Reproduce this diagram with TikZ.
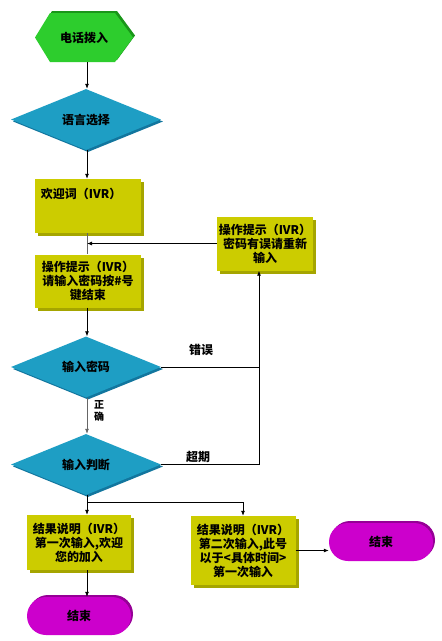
\documentclass[tikz,border=0pt]{standalone}
\usepackage{fontspec}
\newfontfamily\cjk{Noto Sans CJK SC}
\usetikzlibrary{shapes.geometric,shapes.misc,shadows,arrows.meta}
\definecolor{hexg}{RGB}{45,205,45}
\definecolor{hexgd}{RGB}{25,150,25}
\definecolor{dia}{RGB}{30,158,196}
\definecolor{diad}{RGB}{18,118,158}
\definecolor{boxy}{RGB}{204,204,0}
\definecolor{boxyd}{RGB}{165,165,0}
\definecolor{term}{RGB}{204,0,204}
\definecolor{termd}{RGB}{150,0,150}
\tikzset{
  txt/.style={font=\cjk\bfseries\fontsize{12}{14}\selectfont, align=center, inner sep=0pt, text=black},
  diam/.style={txt, diamond, fill=dia, minimum width=150pt, minimum height=61pt,
    general shadow={fill=diad, shadow xshift=2pt, shadow yshift=-2pt}},
  boxn/.style={txt, rectangle, fill=boxy,
    general shadow={fill=boxyd, shadow xshift=3pt, shadow yshift=-3pt}},
  termn/.style={txt, rounded rectangle, fill=term, minimum width=104pt, minimum height=38pt,
    general shadow={fill=termd, shadow xshift=2pt, shadow yshift=2pt}},
  arr/.style={-{Latex[length=5pt,width=4pt]}, line width=0.8pt},
  ln/.style={line width=0.8pt},
  lbl/.style={font=\cjk\bfseries\fontsize{12}{14}\selectfont, inner sep=0pt}
}
\begin{document}
\begin{tikzpicture}[x=1pt,y=-1pt]
\fill[white] (0,0) rectangle (442,641);
\useasboundingbox (0,0) rectangle (442,641);
\coordinate (colx) at (87,0);
% hexagon
\fill[hexgd] (37,35.5) -- (52,11) -- (117,11) -- (135,35.5) -- (117,60) -- (52,60) -- cycle;
\fill[hexg] (35,37.5) -- (50,13) -- (115,13) -- (133,37.5) -- (115,62) -- (50,62) -- cycle;
\node[txt, minimum width=98pt, minimum height=49pt] (start) at (84,37.5) {电话拨入};
% diamonds
\node[diam] (lang) at (86,119.5) {语言选择};
\node[diam] (pwd) at (86,367) {输入密码};
\node[diam] (judge) at (86,464.5) {输入判断};
% boxes
\node[boxn, minimum width=106pt, minimum height=54pt] (welcome) at (88,206) {};
\node[txt, anchor=north west, xshift=6pt, yshift=-9pt] at (welcome.north west) {欢迎词（IVR）};
\node[boxn, minimum width=106pt, minimum height=53pt] (prompt) at (88,281) {操作提示（IVR）\\请输入密码按\#号\\键结束};
\node[boxn, minimum width=96pt, minimum height=54pt] (err) at (265,243.5) {操作提示（IVR）\\密码有误请重新\\输入};
\node[boxn, minimum width=104pt, minimum height=55pt] (r1) at (79,542.5) {结果说明（IVR）\\第一次输入,欢迎\\您的加入};
\node[boxn, minimum width=105pt, minimum height=69pt] (r2) at (243,550.5) {结果说明（IVR）\\第二次输入,此号\\以于<具体时间>\\第一次输入};
% terminals
\node[termn] (e1) at (79,616) {结束};
\node[termn] (e2) at (381,542) {结束};
% connectors
\draw[arr] (start.south -| colx) -- (lang.north -| colx);
\draw[arr] (lang.south -| colx) -- (welcome.north -| colx);
\draw[ln, gray!80!black] (welcome.south -| colx) -- (prompt.north -| colx);
\draw[arr] (err.west) -- (err.west -| colx);
\draw[arr] (prompt.south -| colx) -- (pwd.north -| colx);
\coordinate (c1) at (259,367);
\coordinate (c2) at (259,464.5);
\draw[arr] (pwd.east) -- (c1) -- (c1 |- err.south);
\draw[ln] (judge.east) -- (c2) -- (c1);
\draw[arr, gray!80!black] (pwd.south -| colx) -- (judge.north -| colx);
\coordinate (sp) at (87,502);
\draw[ln] (judge.south -| colx) -- (sp);
\draw[arr] (sp) -- (sp |- r1.north);
\draw[arr] (sp) -- (sp -| r2.north) -- (r2.north);
\draw[arr] (sp |- r1.south) -- (sp |- e1.north);
\draw[arr] (r2.east) -- (r2.east -| e2.west);
% labels
\node[lbl] (lerr) at (201,350) {错误};
\node[lbl] (lto) at (198,457) {超期};
\node[font=\cjk\bfseries\fontsize{10}{12}\selectfont, align=center, inner sep=0pt] (lok) at (99,411) {正\\确};
\end{tikzpicture}
\end{document}
